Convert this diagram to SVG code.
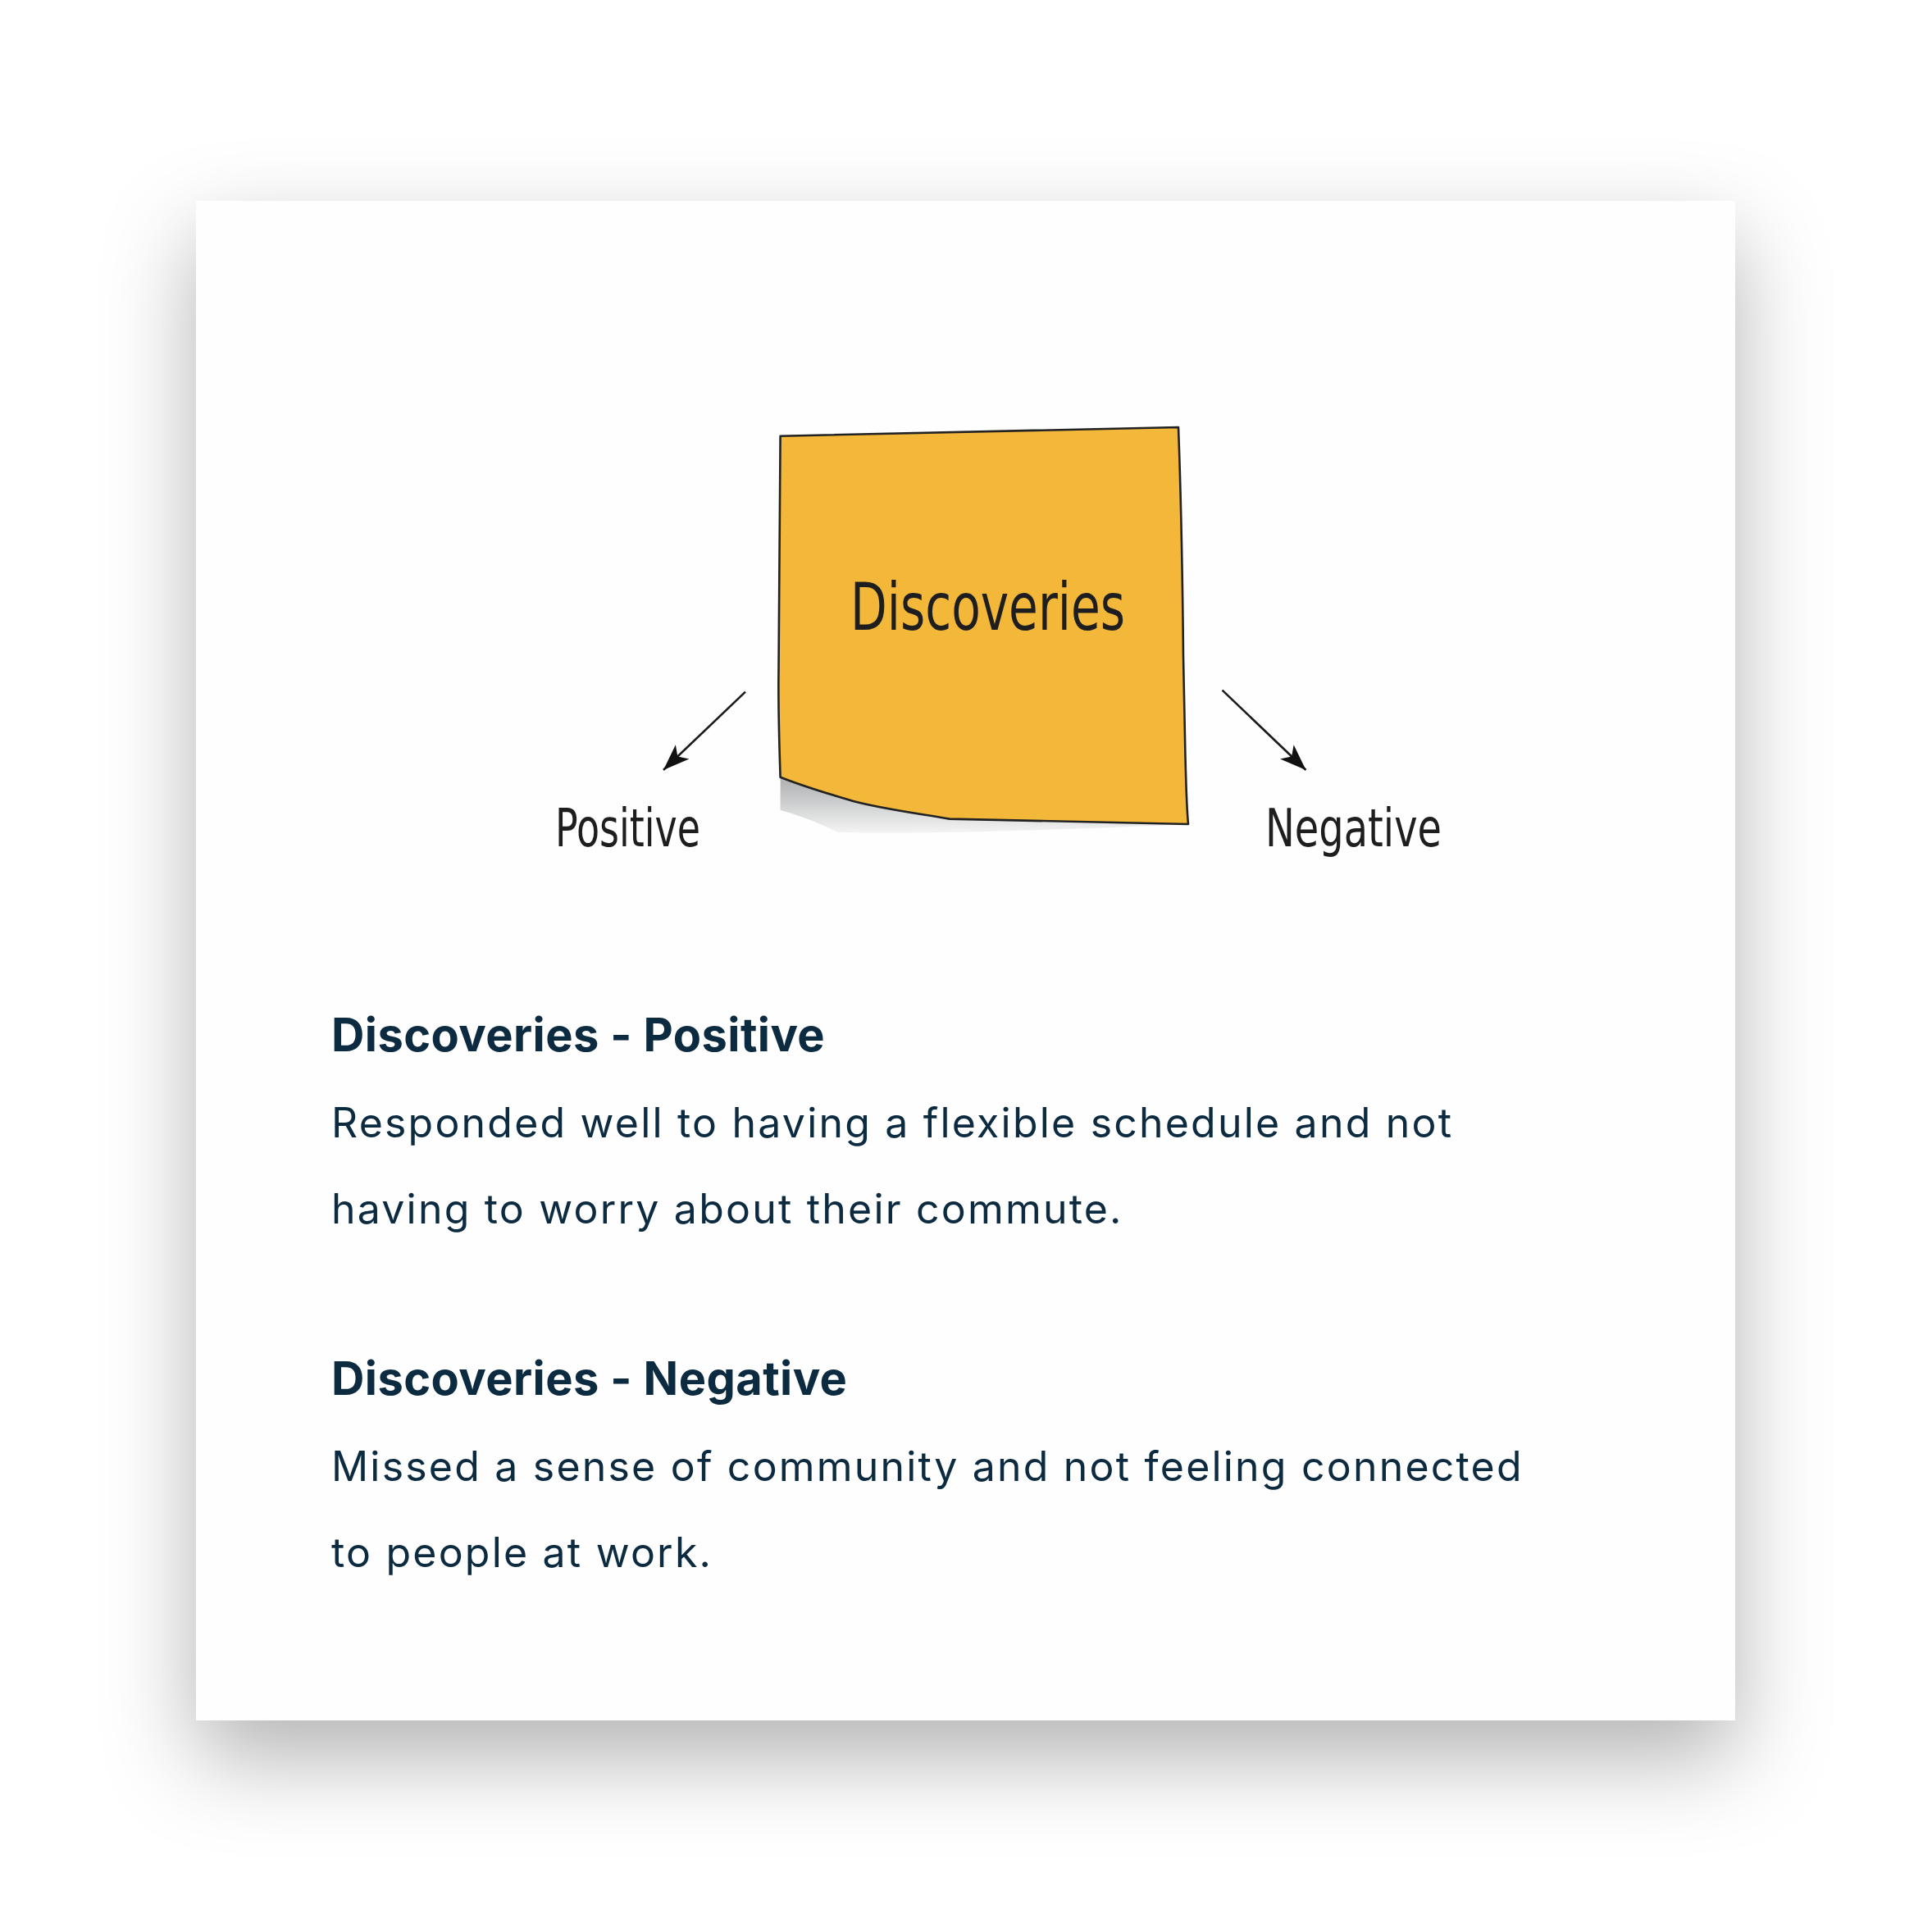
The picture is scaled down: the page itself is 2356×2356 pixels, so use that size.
<svg xmlns="http://www.w3.org/2000/svg" width="2356" height="2356" viewBox="0 0 2356 2356">
  <style>
    .hand { font-family: "Liberation Sans Narrow", "DejaVu Sans Condensed", "Liberation Sans", sans-serif; fill: #1e1e1e; }
    .head { font-family: Inter, "Liberation Sans", sans-serif; font-weight: 700; font-size: 56px; letter-spacing: 0.4px; fill: #0c2a40; }
    .body { font-family: Inter, "Liberation Sans", sans-serif; font-weight: 400; font-size: 50px; letter-spacing: 2.2px; fill: #0c2a40; }
    .conn { stroke: #1a1a1a; stroke-width: 2.6; fill: none; }
  </style>
  <defs>
    <filter id="cardShadow" x="-30%" y="-30%" width="160%" height="160%">
      <feDropShadow dx="0" dy="45" stdDeviation="55" flood-color="#000" flood-opacity="0.3"/>
    </filter>
    <linearGradient id="curlShadow" gradientUnits="userSpaceOnUse" x1="0" y1="955" x2="0" y2="1018">
      <stop offset="0" stop-color="#b4b6b7"/>
      <stop offset="1" stop-color="#f6f6f6"/>
    </linearGradient>
    <marker id="arrowHead" viewBox="-34 -14 36 28" refX="0" refY="0" markerWidth="36" markerHeight="28" markerUnits="userSpaceOnUse" orient="auto">
      <path d="M0,0 L-32,-12 L-24,0 L-32,12 Z" fill="#111"/>
    </marker>
  </defs>

  <rect x="0" y="0" width="2356" height="2356" fill="#ffffff"/>

  <g id="card">
    <rect x="239" y="245" width="1877" height="1853" fill="#fefefe" filter="url(#cardShadow)"/>
  </g>

  <g id="sticky-discoveries">
    <path d="M951.6,947.7 C970,955 1000,965 1034,975 C1065,985 1120,992 1158,998.6 L1449,1005 C1300,1012 1100,1018 1022,1015 C995,1002 968,992 951.6,988 Z" fill="url(#curlShadow)"/>
    <path d="M951.6,531.7 L1437,521 C1440,600 1442,700 1443,800 L1445,900 C1446,950 1447,985 1449,1005 L1158,998.6 C1120,992 1065,985 1034,975 C1000,965 970,955 951.6,947.7 C950,900 949,850 949.5,817 C950,700 951,600 951.6,531.7 Z" fill="#f3b83a" stroke="#222" stroke-width="2.6" stroke-linejoin="round"/>
    <text class="hand" x="1037" y="768" font-size="80" textLength="335" lengthAdjust="spacingAndGlyphs">Discoveries</text>
  </g>

  <g id="label-positive">
    <text class="hand" x="677" y="1032" font-size="64" textLength="177" lengthAdjust="spacingAndGlyphs">Positive</text>
  </g>

  <g id="label-negative">
    <text class="hand" x="1543" y="1032" font-size="64" textLength="215" lengthAdjust="spacingAndGlyphs">Negative</text>
  </g>

  <g id="connectors">
    <line class="conn" x1="909" y1="843.6" x2="809" y2="939" marker-end="url(#arrowHead)"/>
    <line class="conn" x1="1490.5" y1="841.6" x2="1592.5" y2="939" marker-end="url(#arrowHead)"/>
  </g>

  <g id="text-positive">
    <text class="head" x="404" y="1282">Discoveries - Positive</text>
    <text class="body" x="404" y="1387">Responded well to having a flexible schedule and not</text>
    <text class="body" x="404" y="1492">having to worry about their commute.</text>
  </g>

  <g id="text-negative">
    <text class="head" x="404" y="1701">Discoveries - Negative</text>
    <text class="body" x="404" y="1806">Missed a sense of community and not feeling connected</text>
    <text class="body" x="404" y="1911">to people at work.</text>
  </g>
</svg>
